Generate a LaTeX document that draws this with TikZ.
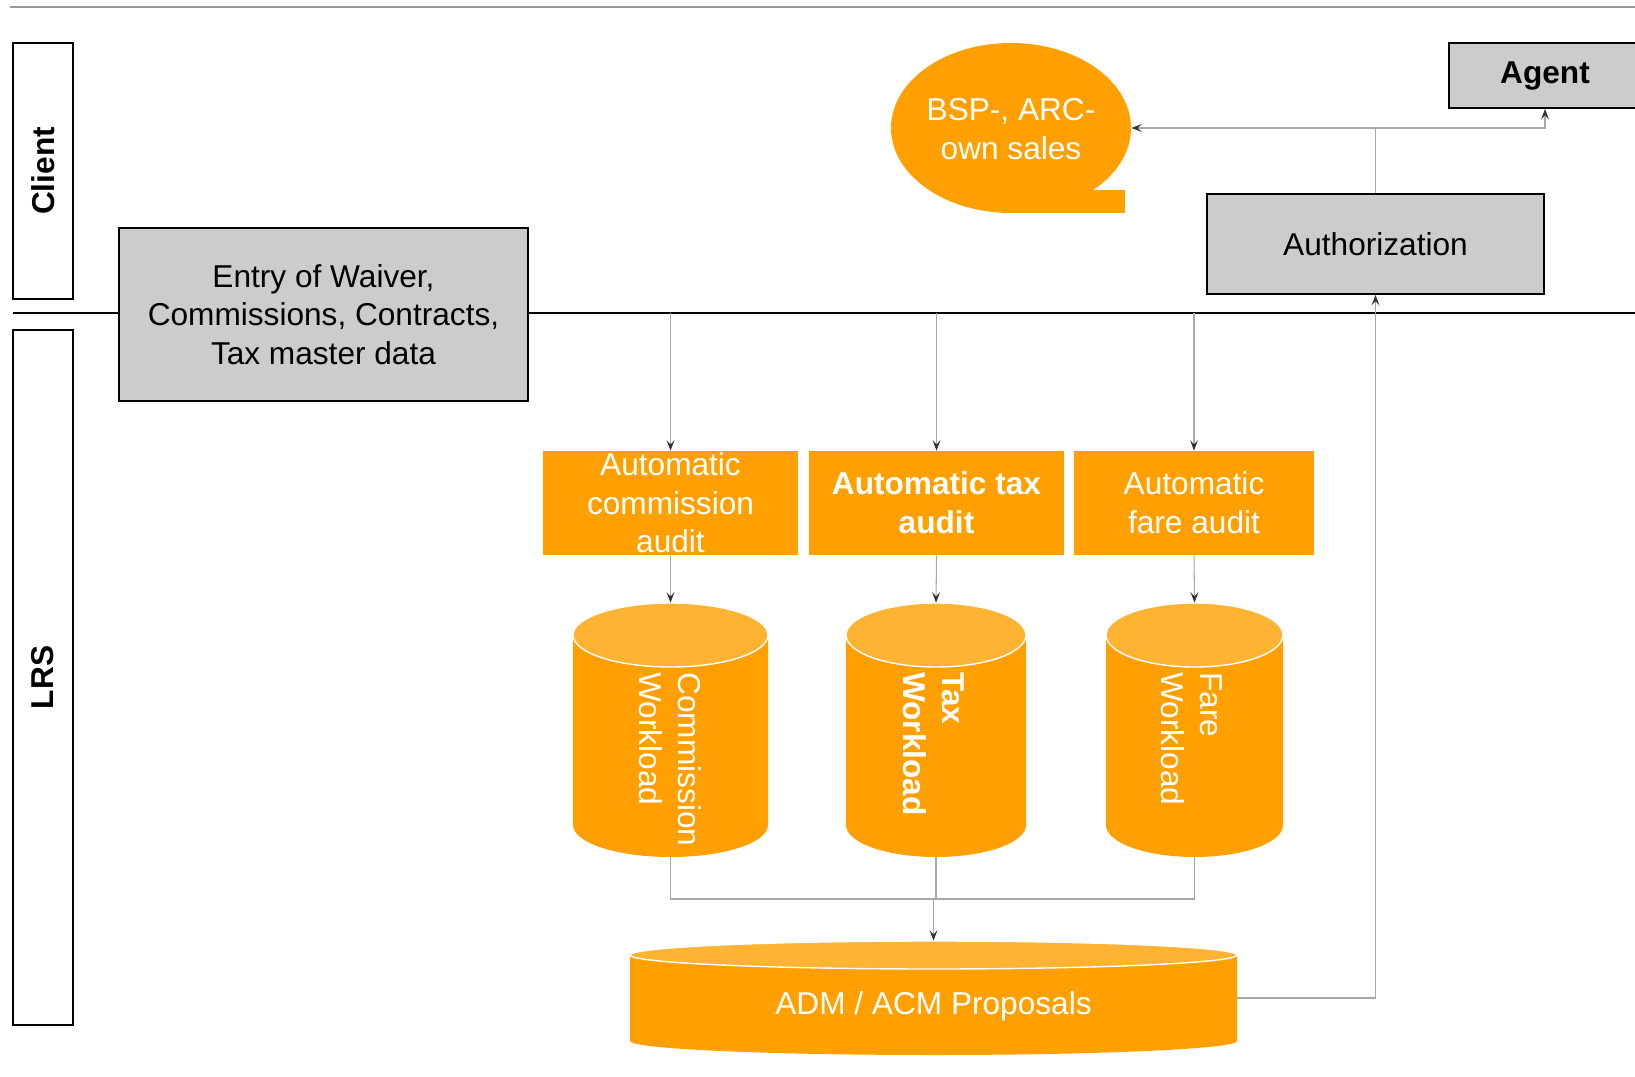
\documentclass[tikz,border=0pt]{standalone}
\usepackage{fontspec}
\setmainfont{Liberation Sans}
\usetikzlibrary{arrows.meta,positioning,calc,fit,shapes.geometric}

\definecolor{lrsorange}{HTML}{FFA000}
\definecolor{lrslight}{HTML}{FFB333}
\definecolor{boxgray}{HTML}{CCCCCC}
\definecolor{wiregray}{HTML}{A8A8A8}

% drum: name, centre x, top y, bottom y, x radius, y radius
\newcommand\drum[6]{%
  \fill[lrsorange] (#2-#5,#3+#6) -- (#2-#5,#4-#6)
    arc[start angle=180, end angle=0, x radius=#5, y radius=#6] -- (#2+#5,#3+#6) -- cycle;
  \fill[lrslight, draw=white, line width=0.8pt] (#2,#3+#6) ellipse[x radius=#5, y radius=#6];
  \node[fit={(#2-#5,#3) (#2+#5,#4)}, inner sep=0pt] (#1) {};
}

\begin{document}
\begin{tikzpicture}[x=0.02cm, y=-0.02cm,
    txt/.style={font=\fontsize{18}{22}\selectfont, align=center},
    graybox/.style={txt, draw=black, line width=1.1pt, fill=boxgray, inner sep=0pt},
    lane/.style={txt, draw=black, line width=1.1pt, inner sep=0pt, rotate=90, minimum height=1.21cm},
    audit/.style={txt, fill=lrsorange, text=white, inner sep=0pt, minimum height=2.08cm},
    wire/.style={draw=wiregray, line width=0.6pt},
    tip/.style={-{Stealth[length=6pt, width=4.5pt, inset=2.5pt, color=black!80]}}
]
\useasboundingbox (0,0) rectangle (1635,1077);

% frame lines and swim lanes
\draw[gray!80, line width=1pt] (10,7) -- (1635,7);
\draw[line width=1.1pt] (12.5,313) -- (1635,313);
\coordinate (line) at (0,313);

\node[lane, minimum width=5.12cm] (client) at (43,171) {\textbf{Client}};
\node[lane, minimum width=13.9cm] (lrs) at (43,677.5) {\textbf{LRS}};

% client side
\node[graybox, minimum width=8.18cm, minimum height=3.46cm] (entry) at (323.5,314.5)
    {Entry of Waiver,\\Commissions, Contracts,\\Tax master data};
\node[graybox, minimum width=6.74cm, minimum height=2cm] (auth) at (1375.5,244) {Authorization};
\node[graybox, minimum width=3.84cm, minimum height=1.3cm] (agent) at (1545,75.5) {\textbf{Agent}};

\node[ellipse, fill=lrsorange, inner sep=0pt, minimum width=4.8cm, minimum height=3.4cm] (bubble) at (1011,128) {};
\fill[lrsorange] (1011,190) rectangle (1125,213);
\node[txt, text=white] at (1011,129) {BSP-, ARC-\\own sales};

% audits
\node[audit, minimum width=5.1cm] (aud1) at (670.5,503) {Automatic\\commission\\audit};
\node[audit, minimum width=5.1cm] (aud2) at (936.5,503) {\textbf{Automatic tax}\\\textbf{audit}};
\node[audit, minimum width=4.8cm] (aud3) at (1194,503) {Automatic\\fare audit};

% workloads
\drum{cyl1}{670.5}{603}{857}{97.5}{32}
\drum{cyl2}{936}{603}{857}{90}{32}
\drum{cyl3}{1194.5}{603}{857}{88.5}{32}
\node[txt, text=white, rotate=-90, anchor=west, align=left, inner sep=0pt] at (670.5,672) {Commission\\Workload};
\node[txt, text=white, rotate=-90, anchor=west, align=left, inner sep=0pt] at (934,672) {\textbf{Tax}\\\textbf{Workload}};
\node[txt, text=white, rotate=-90, anchor=west, align=left, inner sep=0pt] at (1192,672) {Fare\\Workload};

\drum{adm}{933.5}{941}{1055}{303.5}{14}
\node[txt, text=white] at (933.5,1006) {ADM / ACM Proposals};

% connectors
\foreach \a/\c in {aud1/cyl1, aud2/cyl2, aud3/cyl3} {
  \draw[wire, tip] (\a.north |- line) -- (\a.north);
  \draw[wire, tip] (\a.south) -- (\c.north);
}
\coordinate (join) at (adm.north |- 0,899);
\draw[wire] (cyl1.south) |- (cyl3.south |- join) -- (cyl3.south);
\draw[wire] (cyl2.south) -- (cyl2.south |- join);
\draw[wire, tip] (join) -- (adm.north);
\draw[wire, tip] (adm.east) -| (auth.south);

\coordinate (split) at (auth.north |- bubble.east);
\draw[wire] (auth.north) -- (split);
\draw[wire, tip] (split) -- (bubble.east);
\draw[wire, tip] (split) -| (agent.south);
\end{tikzpicture}
\end{document}
